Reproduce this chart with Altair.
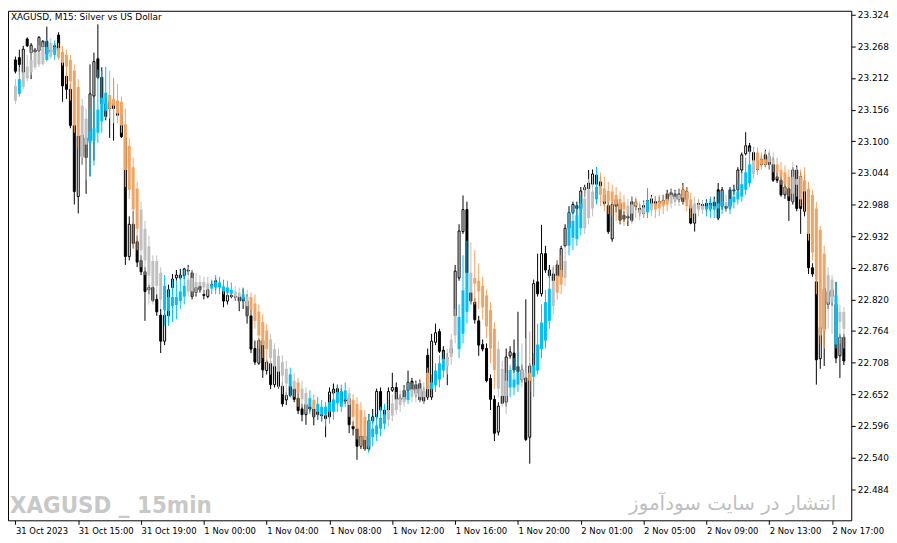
import json
import altair as alt
import pandas as pd

# XAGUSD M15 price candles
open_ = [
    23.244, 23.248, 23.222, 23.281, 23.257, 23.262, 23.260, 23.267, 23.277, 23.262,
    23.269, 23.288, 23.257, 23.215, 23.192, 23.128, 23.002, 23.111, 23.106, 23.101,
    23.180, 23.246, 23.213, 23.166, 23.170, 23.166, 23.170, 23.146, 23.106, 22.896,
    22.953, 22.922, 22.889, 22.869, 22.837, 22.841, 22.820, 22.792, 22.746, 22.791,
    22.841, 22.858, 22.863, 22.862, 22.872, 22.867, 22.832, 22.843, 22.829, 22.825,
    22.846, 22.843, 22.844, 22.841, 22.817, 22.827, 22.825, 22.825, 22.824, 22.817,
    22.791, 22.733, 22.707, 22.747, 22.694, 22.706, 22.669, 22.701, 22.666, 22.642,
    22.666, 22.662, 22.645, 22.626, 22.616, 22.630, 22.626, 22.621, 22.616, 22.614,
    22.612, 22.654, 22.662, 22.656, 22.642, 22.645, 22.595, 22.591, 22.560, 22.578,
    22.555, 22.605, 22.612, 22.657, 22.624, 22.624, 22.659, 22.664, 22.645, 22.659,
    22.659, 22.675, 22.669, 22.671, 22.657, 22.721, 22.647, 22.744, 22.763, 22.730,
    22.716, 22.733, 22.791, 22.858, 22.940, 22.979, 22.832, 22.815, 22.782, 22.740,
    22.733, 22.680, 22.643, 22.585, 22.649, 22.638, 22.720, 22.725, 22.701, 22.695,
    22.681, 22.576, 22.702, 22.851, 22.830, 22.901, 22.872, 22.865, 22.881, 22.860,
    22.915, 22.946, 22.974, 22.986, 22.981, 23.014, 23.016, 23.024, 23.040, 23.028,
    23.005, 22.986, 22.927, 22.997, 22.990, 22.969, 22.967, 22.993, 22.992, 22.981,
    22.986, 22.995, 22.983, 22.993, 22.993, 22.995, 23.007, 23.009, 23.007, 23.007,
    23.014, 23.011, 22.986, 22.955, 22.990, 22.988, 22.990, 22.990, 22.992, 23.014,
    22.985, 22.985, 23.014, 23.014, 23.014, 23.049, 23.078, 23.092, 23.080, 23.066,
    23.068, 23.076, 23.073, 23.059, 23.037, 23.031, 23.005, 23.016, 22.993, 23.049,
    23.037, 23.028, 23.011, 22.876, 22.851, 22.715, 22.839, 22.811, 22.837, 22.811,
    22.720, 22.753,
]
high_ = [
    23.250, 23.262, 23.269, 23.284, 23.274, 23.265, 23.286, 23.279, 23.303, 23.270,
    23.274, 23.293, 23.262, 23.224, 23.201, 23.170, 23.115, 23.140, 23.127, 23.236,
    23.257, 23.307, 23.231, 23.184, 23.179, 23.210, 23.179, 23.158, 23.115, 22.967,
    22.976, 22.933, 22.898, 22.877, 22.846, 22.846, 22.829, 22.803, 22.803, 22.846,
    22.865, 22.872, 22.874, 22.876, 22.881, 22.872, 22.844, 22.850, 22.837, 22.841,
    22.853, 22.858, 22.853, 22.846, 22.832, 22.832, 22.832, 22.829, 22.839, 22.829,
    22.803, 22.747, 22.751, 22.754, 22.713, 22.711, 22.704, 22.707, 22.673, 22.656,
    22.687, 22.673, 22.656, 22.635, 22.638, 22.638, 22.633, 22.630, 22.624, 22.624,
    22.664, 22.671, 22.669, 22.662, 22.649, 22.652, 22.604, 22.598, 22.583, 22.586,
    22.617, 22.626, 22.662, 22.664, 22.631, 22.664, 22.690, 22.673, 22.652, 22.668,
    22.694, 22.681, 22.676, 22.678, 22.664, 22.733, 22.759, 22.777, 22.768, 22.737,
    22.725, 22.742, 22.881, 22.953, 23.004, 22.993, 22.846, 22.822, 22.791, 22.749,
    22.742, 22.687, 22.650, 22.638, 22.656, 22.733, 22.737, 22.749, 22.798, 22.704,
    22.820, 22.707, 22.855, 22.901, 22.952, 22.915, 22.881, 22.877, 22.889, 22.915,
    22.953, 22.985, 22.993, 22.993, 23.019, 23.023, 23.049, 23.050, 23.054, 23.037,
    23.016, 22.997, 22.993, 23.005, 22.997, 22.976, 22.976, 23.002, 22.998, 22.988,
    22.995, 23.016, 23.005, 23.002, 23.002, 23.005, 23.014, 23.016, 23.014, 23.016,
    23.026, 23.019, 22.995, 22.976, 22.997, 22.995, 22.997, 22.998, 23.002, 23.026,
    23.019, 22.992, 23.019, 23.023, 23.054, 23.080, 23.116, 23.097, 23.089, 23.075,
    23.075, 23.085, 23.080, 23.071, 23.045, 23.040, 23.028, 23.026, 23.054, 23.057,
    23.045, 23.040, 23.019, 22.884, 22.863, 22.777, 22.846, 22.863, 22.850, 22.851,
    22.759, 22.759,
]
low_ = [
    23.220, 23.222, 23.220, 23.267, 23.210, 23.250, 23.255, 23.262, 23.244, 23.250,
    23.253, 23.253, 23.170, 23.175, 23.123, 22.988, 22.972, 23.059, 23.007, 23.038,
    23.066, 23.210, 23.158, 23.137, 23.106, 23.101, 23.140, 23.106, 22.881, 22.889,
    22.910, 22.877, 22.863, 22.782, 22.829, 22.815, 22.791, 22.725, 22.739, 22.780,
    22.832, 22.853, 22.855, 22.856, 22.863, 22.820, 22.825, 22.832, 22.820, 22.822,
    22.841, 22.837, 22.837, 22.806, 22.811, 22.822, 22.818, 22.799, 22.803, 22.777,
    22.725, 22.704, 22.704, 22.681, 22.687, 22.661, 22.664, 22.662, 22.630, 22.633,
    22.647, 22.638, 22.617, 22.604, 22.598, 22.621, 22.597, 22.607, 22.604, 22.576,
    22.607, 22.650, 22.650, 22.635, 22.635, 22.583, 22.579, 22.536, 22.555, 22.552,
    22.552, 22.600, 22.607, 22.621, 22.612, 22.617, 22.656, 22.640, 22.638, 22.638,
    22.656, 22.652, 22.647, 22.638, 22.635, 22.642, 22.642, 22.739, 22.725, 22.707,
    22.668, 22.721, 22.785, 22.853, 22.936, 22.863, 22.811, 22.777, 22.720, 22.728,
    22.673, 22.624, 22.569, 22.579, 22.635, 22.630, 22.715, 22.690, 22.687, 22.673,
    22.569, 22.529, 22.697, 22.825, 22.825, 22.867, 22.858, 22.850, 22.846, 22.855,
    22.912, 22.943, 22.971, 22.967, 22.978, 23.002, 23.011, 23.019, 23.019, 23.011,
    22.985, 22.936, 22.922, 22.974, 22.953, 22.957, 22.950, 22.957, 22.978, 22.967,
    22.964, 22.978, 22.976, 22.981, 22.985, 22.985, 22.992, 22.995, 22.993, 22.992,
    22.988, 22.992, 22.953, 22.940, 22.976, 22.978, 22.974, 22.976, 22.978, 22.960,
    22.979, 22.976, 22.979, 23.005, 23.009, 23.043, 23.075, 23.078, 23.040, 23.045,
    23.054, 23.054, 23.050, 23.028, 23.026, 23.002, 22.998, 22.959, 22.988, 22.976,
    22.936, 22.967, 22.865, 22.860, 22.669, 22.697, 22.702, 22.803, 22.808, 22.707,
    22.681, 22.704,
]
close_ = [
    23.224, 23.236, 23.263, 23.269, 23.270, 23.258, 23.284, 23.277, 23.255, 23.258,
    23.262, 23.262, 23.198, 23.192, 23.128, 23.011, 23.109, 23.073, 23.071, 23.184,
    23.241, 23.213, 23.166, 23.144, 23.158, 23.158, 23.146, 23.108, 22.896, 22.953,
    22.919, 22.886, 22.869, 22.834, 22.841, 22.818, 22.798, 22.746, 22.792, 22.837,
    22.856, 22.863, 22.858, 22.874, 22.870, 22.825, 22.841, 22.837, 22.827, 22.837,
    22.844, 22.853, 22.843, 22.817, 22.827, 22.825, 22.824, 22.817, 22.817, 22.791,
    22.732, 22.709, 22.747, 22.695, 22.709, 22.669, 22.701, 22.666, 22.635, 22.650,
    22.650, 22.643, 22.623, 22.616, 22.635, 22.626, 22.612, 22.616, 22.614, 22.609,
    22.656, 22.661, 22.654, 22.638, 22.640, 22.598, 22.591, 22.560, 22.578, 22.555,
    22.605, 22.612, 22.657, 22.624, 22.616, 22.657, 22.664, 22.643, 22.642, 22.643,
    22.673, 22.659, 22.654, 22.642, 22.640, 22.647, 22.746, 22.761, 22.728, 22.713,
    22.715, 22.725, 22.870, 22.941, 22.979, 22.867, 22.817, 22.784, 22.739, 22.732,
    22.676, 22.643, 22.583, 22.631, 22.636, 22.718, 22.727, 22.695, 22.692, 22.678,
    22.572, 22.702, 22.848, 22.830, 22.901, 22.872, 22.862, 22.853, 22.862, 22.910,
    22.946, 22.974, 22.988, 22.981, 23.012, 23.018, 23.026, 23.042, 23.024, 23.021,
    22.990, 22.940, 22.988, 22.985, 22.960, 22.962, 22.964, 22.960, 22.985, 22.974,
    22.972, 22.983, 22.998, 22.988, 22.990, 22.990, 22.995, 23.002, 22.998, 22.997,
    22.993, 22.997, 22.955, 22.972, 22.981, 22.985, 22.981, 22.981, 22.985, 22.964,
    23.014, 22.981, 22.985, 23.012, 23.049, 23.076, 23.092, 23.082, 23.066, 23.050,
    23.059, 23.059, 23.059, 23.031, 23.031, 23.005, 23.019, 22.995, 23.049, 22.981,
    22.981, 22.976, 22.876, 22.865, 22.713, 22.770, 22.768, 22.834, 22.825, 22.716,
    22.753, 22.711,
]

# smoothed indicator candles drawn over the price
ha_open = [
    23.198, 23.184, 23.222, 23.232, 23.244, 23.257, 23.258, 23.267, 23.244, 23.274,
    23.253, 23.265, 23.258, 23.253, 23.244, 23.225, 23.196, 23.163, 23.140, 23.097,
    23.101, 23.115, 23.135, 23.154, 23.182, 23.175, 23.172, 23.170, 23.130, 23.092,
    23.054, 23.016, 22.979, 22.945, 22.914, 22.888, 22.888, 22.867, 22.801, 22.799,
    22.808, 22.810, 22.817, 22.825, 22.855, 22.858, 22.851, 22.851, 22.851, 22.848,
    22.839, 22.841, 22.841, 22.834, 22.832, 22.830, 22.834, 22.832, 22.820, 22.825,
    22.824, 22.813, 22.798, 22.780, 22.765, 22.749, 22.732, 22.720, 22.709, 22.697,
    22.666, 22.676, 22.673, 22.662, 22.654, 22.630, 22.642, 22.621, 22.616, 22.616,
    22.621, 22.621, 22.636, 22.630, 22.643, 22.654, 22.642, 22.635, 22.624, 22.612,
    22.560, 22.576, 22.581, 22.591, 22.600, 22.624, 22.636, 22.643, 22.645, 22.647,
    22.642, 22.661, 22.661, 22.662, 22.661, 22.690, 22.661, 22.668, 22.678, 22.694,
    22.718, 22.749, 22.791, 22.732, 22.759, 22.798, 22.867, 22.858, 22.853, 22.844,
    22.827, 22.801, 22.768, 22.732, 22.697, 22.676, 22.664, 22.664, 22.669, 22.695,
    22.690, 22.690, 22.683, 22.694, 22.732, 22.747, 22.782, 22.853, 22.862, 22.872,
    22.888, 22.915, 22.929, 22.927, 22.946, 22.998, 23.014, 23.011, 22.997, 23.021,
    23.016, 23.012, 23.011, 23.005, 22.997, 22.992, 22.986, 22.988, 22.992, 22.979,
    22.983, 22.974, 22.990, 22.990, 22.993, 22.995, 22.998, 23.005, 23.002, 23.005,
    23.014, 23.011, 22.997, 22.990, 22.988, 22.986, 22.979, 22.979, 22.979, 22.981,
    22.985, 22.992, 22.981, 22.992, 22.997, 23.002, 23.014, 23.026, 23.066, 23.080,
    23.068, 23.068, 23.075, 23.068, 23.059, 23.049, 23.045, 23.037, 23.037, 23.033,
    23.037, 23.031, 23.016, 23.005, 22.981, 22.943, 22.901, 22.863, 22.855, 22.740,
    22.798, 22.798,
]
ha_close = [
    23.172, 23.210, 23.196, 23.211, 23.222, 23.231, 23.236, 23.237, 23.267, 23.250,
    23.267, 23.248, 23.239, 23.232, 23.206, 23.128, 23.109, 23.071, 23.094, 23.118,
    23.123, 23.156, 23.177, 23.186, 23.158, 23.163, 23.149, 23.128, 23.049, 23.014,
    22.979, 22.945, 22.907, 22.889, 22.862, 22.843, 22.844, 22.820, 22.844, 22.824,
    22.824, 22.824, 22.834, 22.844, 22.834, 22.834, 22.841, 22.844, 22.841, 22.839,
    22.846, 22.851, 22.850, 22.843, 22.841, 22.837, 22.825, 22.824, 22.829, 22.808,
    22.801, 22.782, 22.756, 22.739, 22.732, 22.716, 22.702, 22.692, 22.685, 22.671,
    22.687, 22.661, 22.654, 22.643, 22.633, 22.645, 22.626, 22.635, 22.630, 22.630,
    22.638, 22.643, 22.656, 22.657, 22.659, 22.633, 22.612, 22.591, 22.578, 22.571,
    22.605, 22.591, 22.597, 22.610, 22.616, 22.607, 22.614, 22.624, 22.633, 22.638,
    22.656, 22.647, 22.650, 22.647, 22.647, 22.661, 22.673, 22.694, 22.707, 22.715,
    22.702, 22.718, 22.756, 22.789, 22.836, 22.867, 22.832, 22.848, 22.834, 22.806,
    22.772, 22.733, 22.695, 22.662, 22.649, 22.649, 22.695, 22.678, 22.690, 22.678,
    22.683, 22.676, 22.704, 22.740, 22.779, 22.815, 22.839, 22.808, 22.832, 22.846,
    22.858, 22.953, 22.959, 22.969, 22.990, 22.946, 22.964, 22.981, 23.019, 23.005,
    22.993, 22.993, 22.993, 22.988, 22.979, 22.979, 22.972, 22.972, 22.986, 22.972,
    22.972, 22.995, 22.978, 22.979, 22.981, 22.985, 22.988, 22.990, 22.995, 22.997,
    23.000, 22.985, 22.981, 22.972, 22.979, 22.979, 22.985, 22.988, 22.985, 22.990,
    22.993, 22.986, 22.998, 23.002, 23.011, 23.024, 23.045, 23.059, 23.042, 23.050,
    23.059, 23.059, 23.063, 23.059, 23.045, 23.037, 23.024, 23.019, 23.007, 23.023,
    22.997, 23.011, 22.936, 22.903, 22.855, 22.756, 22.763, 22.815, 22.815, 22.827,
    22.780, 22.768,
]
ha_high = [
    23.210, 23.231, 23.236, 23.253, 23.262, 23.263, 23.270, 23.272, 23.279, 23.283,
    23.279, 23.274, 23.269, 23.262, 23.253, 23.236, 23.210, 23.175, 23.158, 23.158,
    23.175, 23.227, 23.224, 23.232, 23.225, 23.213, 23.201, 23.179, 23.158, 23.106,
    23.071, 23.028, 22.993, 22.959, 22.933, 22.898, 22.898, 22.877, 22.863, 22.837,
    22.855, 22.853, 22.863, 22.872, 22.877, 22.872, 22.867, 22.863, 22.860, 22.860,
    22.855, 22.863, 22.860, 22.855, 22.853, 22.850, 22.843, 22.841, 22.841, 22.837,
    22.832, 22.829, 22.811, 22.794, 22.777, 22.759, 22.742, 22.733, 22.721, 22.711,
    22.699, 22.690, 22.681, 22.676, 22.664, 22.659, 22.652, 22.647, 22.642, 22.638,
    22.652, 22.659, 22.668, 22.669, 22.673, 22.664, 22.652, 22.647, 22.638, 22.624,
    22.617, 22.612, 22.617, 22.630, 22.635, 22.642, 22.652, 22.656, 22.659, 22.664,
    22.673, 22.673, 22.673, 22.676, 22.673, 22.699, 22.687, 22.707, 22.721, 22.728,
    22.733, 22.759, 22.803, 22.811, 22.898, 22.924, 22.921, 22.907, 22.884, 22.860,
    22.837, 22.815, 22.780, 22.746, 22.711, 22.690, 22.704, 22.716, 22.733, 22.742,
    22.751, 22.763, 22.725, 22.777, 22.811, 22.837, 22.872, 22.881, 22.889, 22.898,
    22.915, 22.976, 22.985, 22.988, 23.005, 23.019, 23.033, 23.037, 23.054, 23.045,
    23.037, 23.028, 23.023, 23.019, 23.011, 23.005, 22.998, 23.002, 23.002, 22.993,
    22.993, 23.016, 23.002, 23.002, 23.005, 23.005, 23.009, 23.016, 23.012, 23.016,
    23.023, 23.019, 23.009, 23.002, 22.998, 22.995, 22.995, 23.002, 22.998, 23.011,
    23.011, 23.005, 23.019, 23.019, 23.033, 23.045, 23.071, 23.089, 23.089, 23.089,
    23.080, 23.083, 23.085, 23.080, 23.071, 23.063, 23.057, 23.050, 23.063, 23.054,
    23.050, 23.054, 23.028, 23.014, 22.993, 22.950, 22.915, 22.877, 22.863, 22.851,
    22.811, 22.806,
]
ha_low = [
    23.166, 23.179, 23.192, 23.206, 23.217, 23.227, 23.231, 23.234, 23.241, 23.246,
    23.244, 23.244, 23.234, 23.201, 23.172, 23.115, 23.089, 23.057, 23.031, 23.037,
    23.057, 23.097, 23.115, 23.140, 23.140, 23.132, 23.132, 23.115, 23.019, 22.998,
    22.910, 22.907, 22.877, 22.863, 22.811, 22.811, 22.829, 22.803, 22.773, 22.773,
    22.780, 22.785, 22.803, 22.811, 22.825, 22.825, 22.829, 22.836, 22.829, 22.829,
    22.829, 22.829, 22.829, 22.829, 22.825, 22.824, 22.820, 22.815, 22.811, 22.791,
    22.791, 22.768, 22.733, 22.716, 22.707, 22.687, 22.676, 22.664, 22.652, 22.647,
    22.647, 22.647, 22.630, 22.630, 22.621, 22.617, 22.612, 22.607, 22.604, 22.595,
    22.600, 22.607, 22.621, 22.621, 22.630, 22.612, 22.595, 22.572, 22.560, 22.552,
    22.548, 22.560, 22.569, 22.578, 22.590, 22.595, 22.604, 22.616, 22.621, 22.630,
    22.635, 22.638, 22.638, 22.638, 22.635, 22.647, 22.650, 22.656, 22.664, 22.681,
    22.687, 22.704, 22.742, 22.716, 22.742, 22.777, 22.811, 22.811, 22.803, 22.785,
    22.751, 22.707, 22.661, 22.647, 22.630, 22.617, 22.647, 22.650, 22.656, 22.664,
    22.673, 22.656, 22.647, 22.687, 22.716, 22.733, 22.768, 22.794, 22.820, 22.829,
    22.843, 22.898, 22.907, 22.915, 22.933, 22.936, 22.953, 22.967, 22.988, 22.985,
    22.976, 22.971, 22.967, 22.959, 22.953, 22.950, 22.959, 22.953, 22.964, 22.960,
    22.964, 22.964, 22.967, 22.964, 22.967, 22.971, 22.976, 22.981, 22.985, 22.985,
    22.988, 22.976, 22.964, 22.957, 22.967, 22.971, 22.967, 22.964, 22.964, 22.964,
    22.971, 22.974, 22.971, 22.981, 22.988, 22.993, 23.005, 23.019, 23.033, 23.040,
    23.050, 23.054, 23.050, 23.045, 23.033, 23.023, 23.011, 23.002, 22.993, 23.002,
    22.985, 22.976, 22.924, 22.889, 22.829, 22.742, 22.733, 22.768, 22.759, 22.733,
    22.742, 22.733,
]
# u = rising (blue), d = falling (orange), n = flat (grey)
ha_trend = (
    "nunnnnnnun" "uddddddnnu" "uuuudddddd" "ddnnnnnnuu" "uuuunnnnnn"
    "uuuuuunnun" "dddddnnnnn" "undnnuduuu" "uuuuundddd" "uuuuunnnnn"
    "unnnnduuuu" "nnnuuunddd" "dddnnnuuun" "nduuuuundd" "nuuuunnnud"
    "ddddddnndn" "nunddddnnn" "dddnnnuuuu" "unuuuuuund" "ddnnddddnn"
    "dddddddnnu" "nn"
)

time_labels = [
    "31 Oct 2023", "31 Oct 15:00", "31 Oct 19:00", "1 Nov 00:00", "1 Nov 04:00",
    "1 Nov 08:00", "1 Nov 12:00", "1 Nov 16:00", "1 Nov 20:00", "2 Nov 01:00",
    "2 Nov 05:00", "2 Nov 09:00", "2 Nov 13:00", "2 Nov 17:00",
]
time_bars = [0, 16, 32, 48, 64, 80, 96, 112, 128, 144, 160, 176, 192, 208]
price_ticks = [
    22.484, 22.540, 22.596, 22.652, 22.708, 22.764, 22.820, 22.876,
    22.932, 22.988, 23.044, 23.100, 23.156, 23.212, 23.268, 23.324,
]

df = pd.DataFrame({
    "bar": list(range(len(close_))),
    "open": open_, "high": high_, "low": low_, "close": close_,
    "ha_open": ha_open, "ha_close": ha_close, "ha_high": ha_high, "ha_low": ha_low,
    "trend": list(ha_trend),
})

FONT = "DejaVu Sans"

# 4 px per bar, bars centred on half pixels so bodies stay crisp
x_scale = alt.Scale(domain=[-0.625, 211.625], nice=False, zero=False)
y_scale = alt.Scale(domain=[22.4288, 23.331], nice=False, zero=False)
trend_color = alt.Color(
    "trend:N",
    scale=alt.Scale(domain=["d", "n", "u"], range=["#F4A460", "#C0C0C0", "#00BFFF"]),
    legend=None,
)

x_axis = alt.Axis(
    values=time_bars,
    labelExpr=json.dumps(time_labels) + "[round(datum.value / 16)]",
    labelAlign="left", labelFlush=False, labelOverlap=False, labelBound=False,
    labelFontSize=8.5, labelPadding=2, tickSize=4, grid=False, domain=False, title=None,
)
y_axis = alt.Axis(
    orient="right", values=price_ticks, format=".3f",
    tickSize=4, labelPadding=2, grid=False, domain=False, title=None,
)


def xy(y_field):
    return dict(
        x=alt.X("bar:Q", scale=x_scale, axis=x_axis),
        y=alt.Y(y_field, scale=y_scale, axis=y_axis),
    )


base = alt.Chart(df)

price_wick = base.mark_rule(color="black", strokeWidth=1).encode(
    **xy("low:Q"), y2="high:Q"
)
price_body = base.mark_bar(size=2, stroke="black", strokeWidth=1).encode(
    **xy("open:Q"), y2="close:Q",
    fill=alt.condition("datum.close < datum.open", alt.value("black"), alt.value("white")),
)
ha_wick = base.mark_rule(strokeWidth=1).encode(
    **xy("ha_low:Q"), y2="ha_high:Q", color=trend_color
)
ha_body = base.mark_bar(size=3).encode(
    **xy("ha_open:Q"), y2="ha_close:Q", color=trend_color
)

title = alt.Chart(pd.DataFrame({"t": ["XAGUSD, M15:  Silver vs US Dollar"]})).mark_text(
    align="left", baseline="top", font=FONT, fontSize=9, color="black"
).encode(x=alt.value(3), y=alt.value(2), text="t:N")

mark_en = alt.Chart(pd.DataFrame({"t": ["XAGUSD _ 15min"]})).mark_text(
    align="left", baseline="alphabetic", font="DejaVu Sans Condensed",
    fontSize=24, fontWeight="bold", color="#C8C8C8"
).encode(x=alt.value(2), y=alt.value(506), text="t:N")

mark_fa = alt.Chart(pd.DataFrame({"t": ["انتشار در سایت سودآموز"]})).mark_text(
    align="right", baseline="alphabetic", font=FONT,
    fontSize=20, color="#C0C0C0"
).encode(x=alt.value(834), y=alt.value(503), text="t:N")

chart = alt.layer(
    price_wick, price_body, ha_wick, ha_body, title, mark_en, mark_fa
).properties(
    width=849, height=513, padding=0, background="white"
).configure_view(
    stroke="black", strokeWidth=1
).configure_axis(
    labelFont=FONT, labelFontSize=9, labelColor="black", tickColor="black"
)

chart.save("out.html", embed_options={"renderer": "svg", "actions": False})
